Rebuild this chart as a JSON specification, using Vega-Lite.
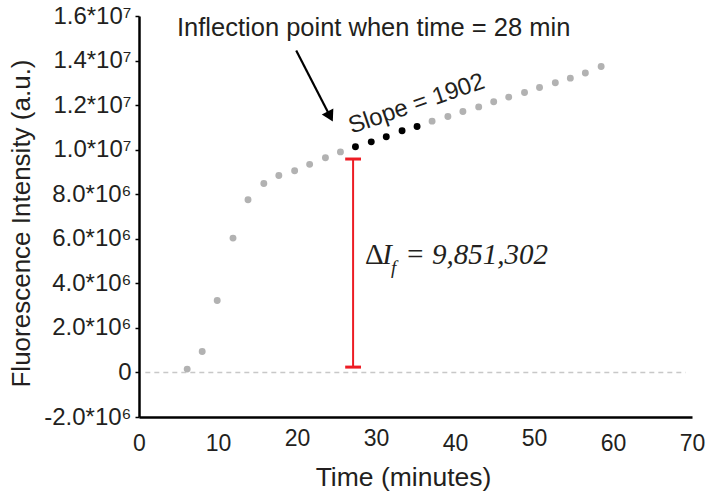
{
  "$schema": "https://vega.github.io/schema/vega-lite/v6.json",
  "width": 553,
  "height": 401,
  "autosize": {"type": "none"},
  "padding": {"left": 139, "top": 16, "right": 15, "bottom": 75},
  "background": "white",
  "config": {
    "view": {"stroke": null},
    "font": "Liberation Sans",
    "axis": {"labelFont": "Liberation Sans", "titleFont": "Liberation Sans", "labelColor": "#231f20", "titleColor": "#231f20", "titleFontWeight": "normal", "grid": false, "domainColor": "#000000", "domainWidth": 2.5, "tickColor": "#000000"}
  },
  "datasets": {
    "pts": [
      {"t": 6.1, "v": 150000, "grp": "gray"},
      {"t": 8.0, "v": 940000, "grp": "gray"},
      {"t": 9.9, "v": 3230000, "grp": "gray"},
      {"t": 11.9, "v": 6030000, "grp": "gray"},
      {"t": 13.8, "v": 7750000, "grp": "gray"},
      {"t": 15.8, "v": 8480000, "grp": "gray"},
      {"t": 17.7, "v": 8840000, "grp": "gray"},
      {"t": 19.7, "v": 9050000, "grp": "gray"},
      {"t": 21.6, "v": 9340000, "grp": "gray"},
      {"t": 23.6, "v": 9640000, "grp": "gray"},
      {"t": 25.5, "v": 9900000, "grp": "gray"},
      {"t": 27.4, "v": 10130000, "grp": "black"},
      {"t": 29.4, "v": 10350000, "grp": "black"},
      {"t": 31.3, "v": 10580000, "grp": "black"},
      {"t": 33.3, "v": 10850000, "grp": "black"},
      {"t": 35.2, "v": 11040000, "grp": "black"},
      {"t": 37.1, "v": 11280000, "grp": "gray"},
      {"t": 39.1, "v": 11490000, "grp": "gray"},
      {"t": 41.0, "v": 11710000, "grp": "gray"},
      {"t": 43.0, "v": 11920000, "grp": "gray"},
      {"t": 44.9, "v": 12150000, "grp": "gray"},
      {"t": 46.8, "v": 12360000, "grp": "gray"},
      {"t": 48.8, "v": 12570000, "grp": "gray"},
      {"t": 50.7, "v": 12790000, "grp": "gray"},
      {"t": 52.7, "v": 13000000, "grp": "gray"},
      {"t": 54.6, "v": 13210000, "grp": "gray"},
      {"t": 56.5, "v": 13440000, "grp": "gray"},
      {"t": 58.5, "v": 13730000, "grp": "gray"}
    ]
  },
  "layer": [
    {
      "data": {"values": [{"x": 0.8, "x2": 69.2, "y": 0}]},
      "mark": {"type": "rule", "color": "#c8c8c8", "strokeWidth": 1.5, "strokeDash": [5, 4]},
      "encoding": {
        "x": {"field": "x", "type": "quantitative", "scale": {"domain": [0, 70], "nice": false, "zero": false},
          "axis": {"values": [0, 10, 20, 30, 40, 50, 60, 70], "title": "Time (minutes)", "titleFontSize": 26.5, "labelFontSize": 23, "ticks": false, "labelPadding": {"condition": {"test": "datum.value == 20 || datum.value == 30 || datum.value == 50", "value": 10}, "value": 15}, "titlePadding": 9, "titleX": 264, "labelFlush": false}},
        "x2": {"field": "x2"},
        "y": {"field": "y", "type": "quantitative", "scale": {"domain": [-2000000, 16000000], "nice": false, "zero": false},
          "axis": {"values": [-2000000, 0, 2000000, 4000000, 6000000, 8000000, 10000000, 12000000, 14000000, 16000000], "title": "Fluorescence Intensity (a.u.)", "titleFontSize": 26, "labelFontSize": 24, "tickSize": 4, "tickWidth": 1.5, "labelPadding": 4, "titlePadding": 9, "titleY": 207,
            "labelExpr": "datum.value == 0 ? '0' : (abs(datum.value) >= 10000000 ? replace(format(datum.value / 10000000, '.1f'), '\u2212', '-') + '*10\u2077' : replace(format(datum.value / 1000000, '.1f'), '\u2212', '-') + '*10\u2076')"}}
      }
    },
    {
      "data": {"name": "pts"},
      "mark": {"type": "point", "filled": true, "opacity": 1, "size": 48},
      "encoding": {
        "x": {"field": "t", "type": "quantitative"},
        "y": {"field": "v", "type": "quantitative"},
        "color": {"field": "grp", "type": "nominal", "scale": {"domain": ["gray", "black"], "range": ["#b2b2b2", "#000000"]}, "legend": null}
      }
    },
    {
      "data": {"values": [{"x": 27.1, "y": 240000, "y2": 9580000}]},
      "mark": {"type": "rule", "color": "#ed1c24", "strokeWidth": 2},
      "encoding": {
        "x": {"field": "x", "type": "quantitative"},
        "y": {"field": "y", "type": "quantitative"},
        "y2": {"field": "y2"}
      }
    },
    {
      "data": {"values": [{"x": 26.1, "x2": 28.1, "y": 240000}, {"x": 26.1, "x2": 28.1, "y": 9580000}]},
      "mark": {"type": "rule", "color": "#ed1c24", "strokeWidth": 3},
      "encoding": {
        "x": {"field": "x", "type": "quantitative"},
        "x2": {"field": "x2"},
        "y": {"field": "y", "type": "quantitative"}
      }
    },
    {
      "data": {"values": [{"x": 19.9, "y": 14450000, "x2": 24.2, "y2": 11490000}]},
      "mark": {"type": "rule", "color": "#000000", "strokeWidth": 2.2},
      "encoding": {
        "x": {"field": "x", "type": "quantitative"},
        "y": {"field": "y", "type": "quantitative"},
        "x2": {"field": "x2"},
        "y2": {"field": "y2"}
      }
    },
    {
      "data": {"values": [{"x": 24.2, "y": 11490000}]},
      "mark": {"type": "point", "shape": "triangle-down", "filled": true, "opacity": 1, "color": "#000000", "size": 170, "angle": -27.6},
      "encoding": {
        "x": {"field": "x", "type": "quantitative"},
        "y": {"field": "y", "type": "quantitative"}
      }
    },
    {
      "data": {"values": [{"x": 4.81, "y": 15110000, "label": "Inflection point when time = 28 min"}]},
      "mark": {"type": "text", "align": "left", "baseline": "alphabetic", "fontSize": 25.5, "color": "#231f20", "font": "Liberation Sans"},
      "encoding": {
        "x": {"field": "x", "type": "quantitative"},
        "y": {"field": "y", "type": "quantitative"},
        "text": {"field": "label"}
      }
    },
    {
      "data": {"values": [{"x": 26.92, "y": 10710000, "label": "Slope = 1902"}]},
      "mark": {"type": "text", "align": "left", "baseline": "alphabetic", "fontSize": 24, "angle": -19, "color": "#231f20", "font": "Liberation Sans"},
      "encoding": {
        "x": {"field": "x", "type": "quantitative"},
        "y": {"field": "y", "type": "quantitative"},
        "text": {"field": "label"}
      }
    },
    {
      "data": {"values": [{"x": 28.61, "y": 4880000, "label": "\u0394"}]},
      "mark": {"type": "text", "align": "left", "baseline": "alphabetic", "color": "#231f20", "font": "Liberation Serif", "fontSize": 29},
      "encoding": {
        "x": {"field": "x", "type": "quantitative"},
        "y": {"field": "y", "type": "quantitative"},
        "text": {"field": "label"}
      }
    },
    {
      "data": {"values": [
        {"x": 30.8, "y": 4880000, "label": "I"},
        {"x": 33.7, "y": 4880000, "label": "= 9,851,302"}
      ]},
      "mark": {"type": "text", "align": "left", "baseline": "alphabetic", "color": "#231f20", "font": "Liberation Serif", "fontStyle": "italic", "fontSize": 29},
      "encoding": {
        "x": {"field": "x", "type": "quantitative"},
        "y": {"field": "y", "type": "quantitative"},
        "text": {"field": "label"}
      }
    },
    {
      "data": {"values": [{"x": 31.9, "y": 4420000, "label": "f"}]},
      "mark": {"type": "text", "align": "left", "baseline": "alphabetic", "color": "#231f20", "font": "Liberation Serif", "fontStyle": "italic", "fontSize": 19},
      "encoding": {
        "x": {"field": "x", "type": "quantitative"},
        "y": {"field": "y", "type": "quantitative"},
        "text": {"field": "label"}
      }
    }
  ]
}
